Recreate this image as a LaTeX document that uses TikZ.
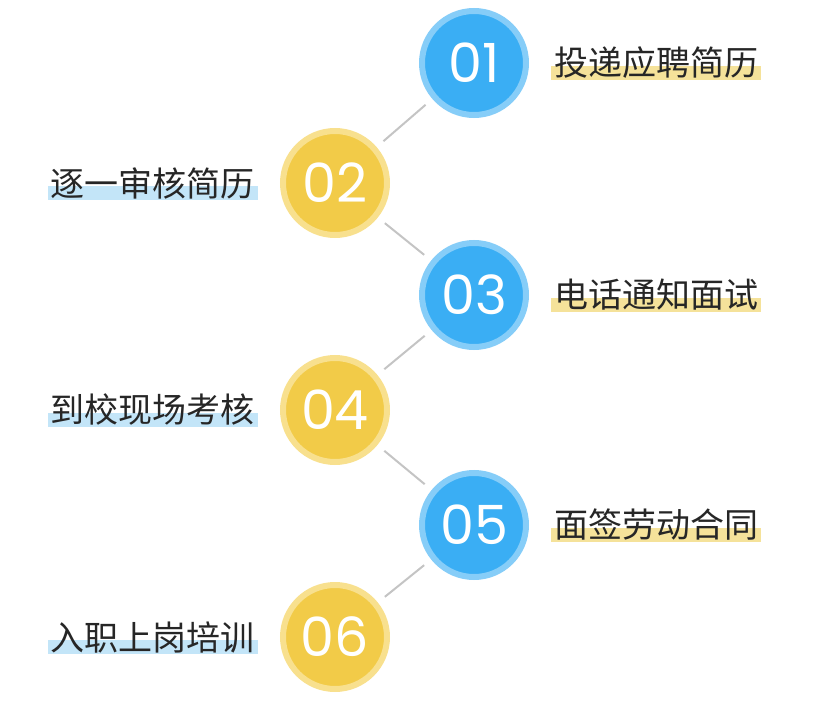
\documentclass[tikz,border=0pt]{standalone}
\usepackage{fontspec}
\newfontfamily\cjk{Noto Sans CJK SC}
\newfontfamily\numfont{Poppins}
\usetikzlibrary{positioning}
\definecolor{bluedot}{HTML}{3AAEF4}
\definecolor{bluering}{HTML}{86CDF8}
\definecolor{yellowdot}{HTML}{F2CB48}
\definecolor{yellowring}{HTML}{F8E08E}
\definecolor{bluemark}{HTML}{C3E5F8}
\definecolor{yellowmark}{HTML}{F5E29A}
\definecolor{linkgray}{HTML}{C4C4C4}

\tikzset{
  stepdot/.style={circle, minimum size=104pt, inner sep=0pt, line width=6pt,
    text=white, font=\numfont\fontsize{54}{60}\selectfont},
  bluestep/.style={stepdot, fill=bluedot, draw=bluering},
  yellowstep/.style={stepdot, fill=yellowdot, draw=yellowring},
  steptext/.style={inner xsep=3pt, inner ysep=1pt, text=black!85,
    font=\cjk\fontsize{34}{38}\selectfont,
    path picture={\fill[#1] (path picture bounding box.south west)
      rectangle ([yshift=-3pt]path picture bounding box.east);}},
  link/.style={linkgray, line width=2pt, shorten >=9pt, shorten <=9pt}
}

\begin{document}
\begin{tikzpicture}[x=1pt,y=-1pt]
\useasboundingbox (0,0) rectangle (817,701);

\node[bluestep]   (s1) at (474,63)  {01};
\node[yellowstep] (s2) at (335,183) {02};
\node[bluestep]   (s3) at (474,295) {03};
\node[yellowstep] (s4) at (335,410) {04};
\node[bluestep]   (s5) at (474,525) {05};
\node[yellowstep] (s6) at (335,637) {06};

\node[steptext=yellowmark, right=22pt of s1] (t1) {投递应聘简历};
\node[steptext=bluemark,   left=22pt of s2]  (t2) {逐一审核简历};
\node[steptext=yellowmark, right=22pt of s3] (t3) {电话通知面试};
\node[steptext=bluemark,   left=22pt of s4]  (t4) {到校现场考核};
\node[steptext=yellowmark, right=22pt of s5] (t5) {面签劳动合同};
\node[steptext=bluemark,   left=22pt of s6]  (t6) {入职上岗培训};

% links
\draw[link] (s1) -- (s2);
\draw[link] (s2) -- (s3);
\draw[link] (s3) -- (s4);
\draw[link] (s4) -- (s5);
\draw[link] (s5) -- (s6);
\end{tikzpicture}
\end{document}
